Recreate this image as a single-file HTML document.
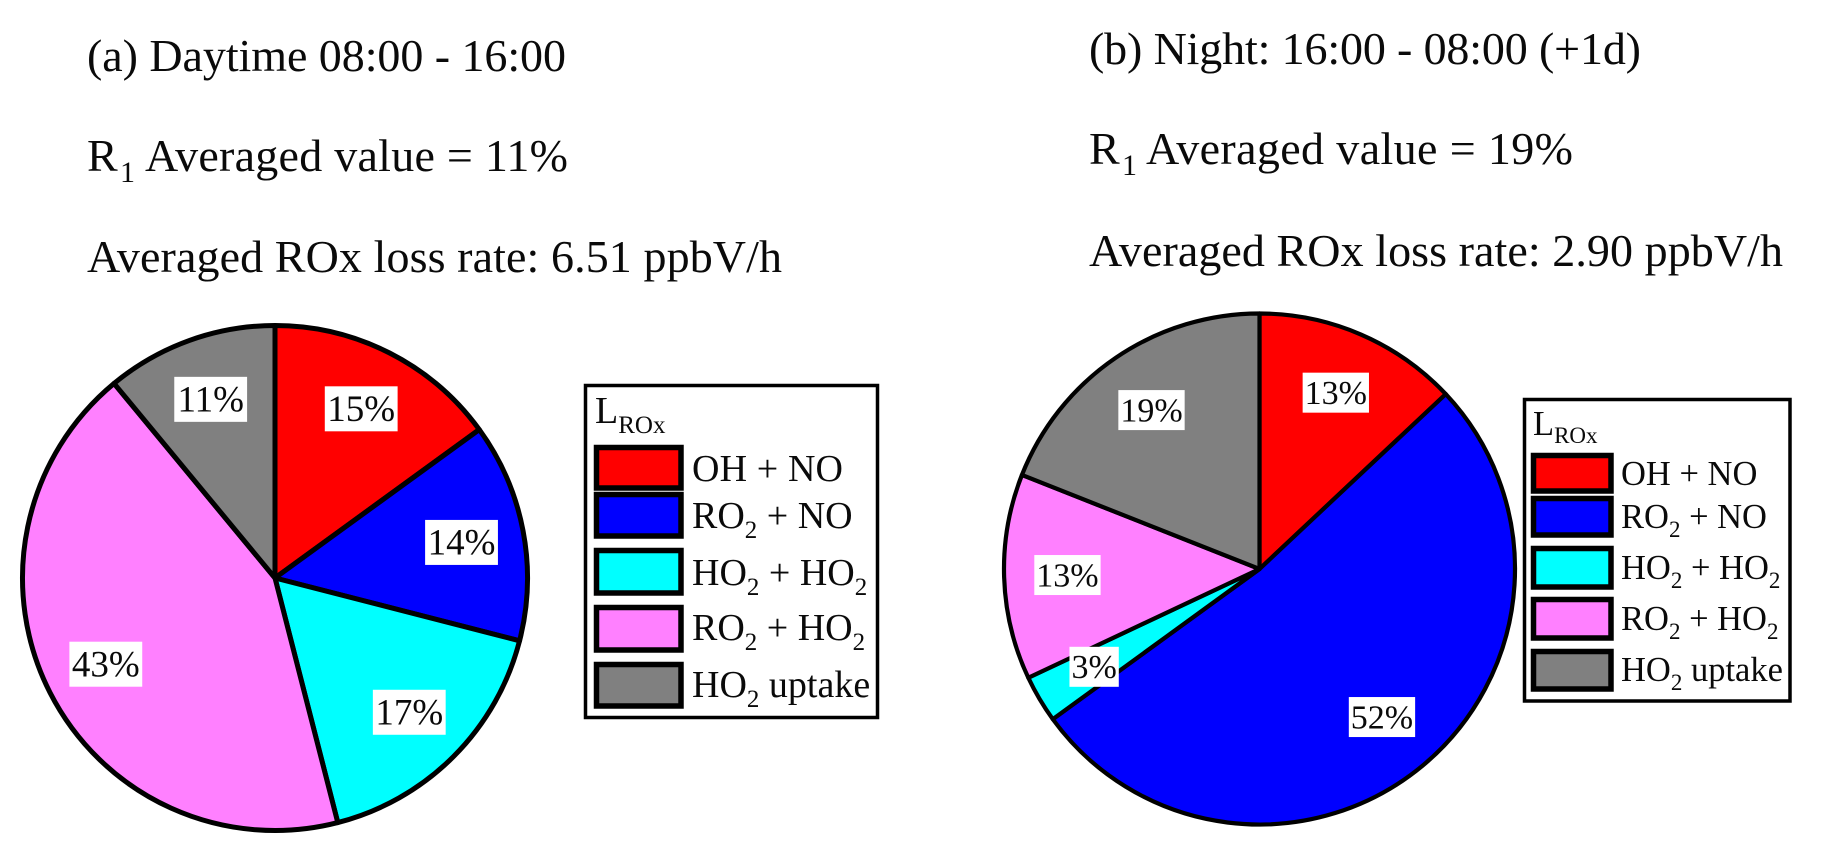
<!DOCTYPE html>
<html lang="en">
<head>
<meta charset="utf-8">
<title>ROx loss pie charts</title>
<style>
  html,body{margin:0;padding:0;background:#fff;width:1835px;height:867px;overflow:hidden}
  svg{display:block}
  text{font-family:"Liberation Serif",serif;fill:#0a0a0a}
</style>
</head>
<body>
<svg id="figure" xmlns="http://www.w3.org/2000/svg" width="1835" height="867" viewBox="0 0 1835 867">
  <rect x="0" y="0" width="1835" height="867" fill="#ffffff"/>

  <g font-size="46">
    <text x="87" y="71" textLength="479">(a) Daytime 08:00 - 16:00</text>
    <text x="87" y="171">R</text>
    <text x="120" y="182" font-size="30">1</text>
    <text x="145" y="171" textLength="423">Averaged value = 11%</text>
    <text x="87" y="272" textLength="695">Averaged ROx loss rate: 6.51 ppbV/h</text>
  </g>

  <g font-size="46">
    <text x="1089" y="64" textLength="552">(b) Night: 16:00 - 08:00 (+1d)</text>
    <text x="1089" y="164">R</text>
    <text x="1122" y="175" font-size="30">1</text>
    <text x="1146" y="164" textLength="427">Averaged value = 19%</text>
    <text x="1089" y="266" textLength="694">Averaged ROx loss rate: 2.90 ppbV/h</text>
  </g>

  <g id="pie-a"></g>
  <g id="pie-b"></g>

  <g>
    <rect x="585.5" y="385.5" width="292" height="332" fill="#fff" stroke="#000" stroke-width="3.5"/>
    <text x="595" y="423" font-size="38">L<tspan font-size="25" dy="10">ROx</tspan></text>
    <rect x="596.5" y="447.5" width="84.5" height="40.5" fill="#ff0000" stroke="#000" stroke-width="5.5"/>
    <rect x="596.5" y="494.5" width="84.5" height="41.5" fill="#0000ff" stroke="#000" stroke-width="5.5"/>
    <rect x="596.5" y="550.5" width="84.5" height="42.5" fill="#00ffff" stroke="#000" stroke-width="5.5"/>
    <rect x="596.5" y="607.5" width="84.5" height="42.5" fill="#ff80ff" stroke="#000" stroke-width="5.5"/>
    <rect x="596.5" y="664.5" width="84.5" height="41.5" fill="#808080" stroke="#000" stroke-width="5.5"/>
    <g font-size="38">
      <text x="692" y="481" textLength="151">OH + NO</text>
      <text x="692" y="528">RO<tspan font-size="25" dy="10">2</tspan><tspan dy="-10"> + NO</tspan></text>
      <text x="692" y="585">HO<tspan font-size="25" dy="10">2</tspan><tspan dy="-10"> + HO</tspan><tspan font-size="25" dy="10">2</tspan></text>
      <text x="692" y="640">RO<tspan font-size="25" dy="10">2</tspan><tspan dy="-10"> + HO</tspan><tspan font-size="25" dy="10">2</tspan></text>
      <text x="692" y="697">HO<tspan font-size="25" dy="10">2</tspan><tspan dy="-10"> uptake</tspan></text>
    </g>
  </g>

  <g>
    <rect x="1524.5" y="399.5" width="265.5" height="301.5" fill="#fff" stroke="#000" stroke-width="3.5"/>
    <text x="1533" y="435" font-size="34.5">L<tspan font-size="23" dy="8">ROx</tspan></text>
    <rect x="1533.5" y="455.5" width="77.5" height="35.5" fill="#ff0000" stroke="#000" stroke-width="5.5"/>
    <rect x="1533.5" y="498.5" width="77.5" height="36.5" fill="#0000ff" stroke="#000" stroke-width="5.5"/>
    <rect x="1533.5" y="548.5" width="77.5" height="38.5" fill="#00ffff" stroke="#000" stroke-width="5.5"/>
    <rect x="1533.5" y="599.5" width="77.5" height="38.5" fill="#ff80ff" stroke="#000" stroke-width="5.5"/>
    <rect x="1533.5" y="651.5" width="77.5" height="37.5" fill="#808080" stroke="#000" stroke-width="5.5"/>
    <g font-size="34.5">
      <text x="1621" y="485">OH + NO</text>
      <text x="1621" y="528">RO<tspan font-size="23" dy="9">2</tspan><tspan dy="-9"> + NO</tspan></text>
      <text x="1621" y="579">HO<tspan font-size="23" dy="9">2</tspan><tspan dy="-9"> + HO</tspan><tspan font-size="23" dy="9">2</tspan></text>
      <text x="1621" y="630">RO<tspan font-size="23" dy="9">2</tspan><tspan dy="-9"> + HO</tspan><tspan font-size="23" dy="9">2</tspan></text>
      <text x="1621" y="681">HO<tspan font-size="23" dy="9">2</tspan><tspan dy="-9"> uptake</tspan></text>
    </g>
  </g>
</svg>

<script>
var categories = ['oh-no', 'ro2-no', 'ho2-ho2', 'ro2-ho2', 'ho2-uptake'];
var sliceColors = ['#ff0000', '#0000ff', '#00ffff', '#ff80ff', '#808080'];
var daytimeValues = [15, 14, 17, 43, 11];
var nightValues = [13, 52, 3, 13, 19];

var SVG_NS = 'http://www.w3.org/2000/svg';
var LABEL_RADIUS = 0.752;

function angleScale(value, total) {
  return value / total * Math.PI * 2;
}

function polar(cx, cy, r, angle) {
  return [cx + r * Math.sin(angle), cy - r * Math.cos(angle)];
}

function drawPie(groupId, prefix, values, cx, cy, r, strokeWidth, fontSize, labelHeight, pad) {
  var group = document.getElementById(groupId);
  var total = values.reduce(function (a, b) { return a + b; }, 0);
  var start = 0;
  var labels = [];
  values.forEach(function (value, i) {
    var sweep = angleScale(value, total);
    var end = start + sweep;
    var p0 = polar(cx, cy, r, start);
    var p1 = polar(cx, cy, r, end);
    var large = sweep > Math.PI ? 1 : 0;
    var slice = document.createElementNS(SVG_NS, 'path');
    slice.setAttribute('d', 'M' + cx + ' ' + cy + 'L' + p0[0] + ' ' + p0[1] + 'A' + r + ' ' + r + ' 0 ' + large + ' 1 ' + p1[0] + ' ' + p1[1] + 'Z');
    slice.setAttribute('fill', sliceColors[i]);
    slice.setAttribute('stroke', '#000');
    slice.setAttribute('stroke-width', strokeWidth);
    slice.setAttribute('stroke-linejoin', 'round');
    
    
    group.appendChild(slice);
    labels.push({ value: value, center: polar(cx, cy, r * LABEL_RADIUS, start + sweep / 2), category: categories[i] });
    start = end;
  });
  labels.forEach(function (item) {
    var str = item.value + '%';
    var w = fontSize * (0.5 * String(item.value).length + 0.833) + pad;
    var box = document.createElementNS(SVG_NS, 'rect');
    box.setAttribute('x', item.center[0] - w / 2);
    box.setAttribute('y', item.center[1] - labelHeight / 2);
    box.setAttribute('width', w);
    box.setAttribute('height', labelHeight);
    box.setAttribute('fill', '#fff');
    
    
    group.appendChild(box);
    var text = document.createElementNS(SVG_NS, 'text');
    text.setAttribute('x', item.center[0]);
    text.setAttribute('y', item.center[1] + fontSize * 0.33);
    text.setAttribute('text-anchor', 'middle');
    text.setAttribute('font-size', fontSize);
    
    
    text.textContent = str;
    group.appendChild(text);
  });
}

drawPie('pie-a', 'daytime', daytimeValues, 275, 578, 252.5, 5, 37, 45, 5);
drawPie('pie-b', 'night', nightValues, 1259.5, 569, 255.5, 4.2, 34, 40, 4);
</script>
</body>
</html>
